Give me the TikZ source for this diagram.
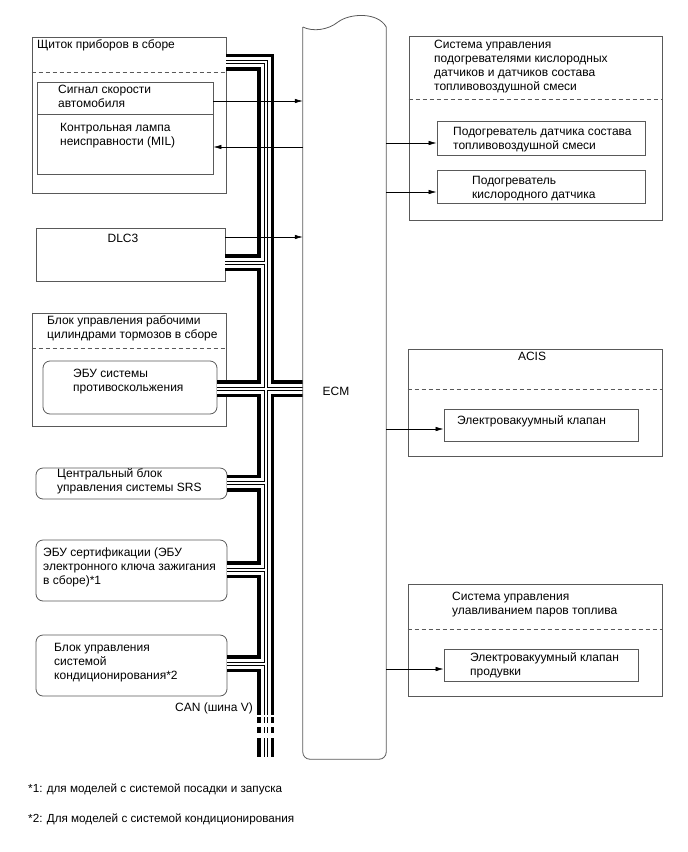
\documentclass[tikz,border=0pt]{standalone}
\usepackage{fontspec}
\setmainfont{Liberation Sans}
\usetikzlibrary{arrows.meta, fit, calc}

\tikzset{
  frame/.style={draw=black!65, line width=0.8pt, inner sep=0pt},
  rframe/.style={frame, rounded corners=7pt},
  sep/.style={draw=black!65, line width=0.8pt, dash pattern=on 4pt off 3pt},
  lbl/.style={anchor=base west, align=left, inner sep=0pt, font=\fontsize{12}{14}\selectfont},
  arr/.style={line width=0.6pt, -{Latex[length=8pt,width=4.5pt]}},
}

% CAN bus wires, drawn in layers so the branches merge
\newcommand\canpaths{
  (shch.east |- 0,62) -- (bustop) -- (busend)
  (dlc.east |- 0,262.5) -- (bustop |- 0,262.5)
  (esp.east |- 0,388.5) -- (ecm.west |- 0,388.5)
  (srs.east |- 0,483) -- (bustop |- 0,483)
  (cert.east |- 0,569.5) -- (bustop |- 0,569.5)
  (ac.east |- 0,663.5) -- (bustop |- 0,663.5)
}

\begin{document}
\begin{tikzpicture}[x=1pt, y=-1pt, line join=miter]
    \useasboundingbox (0,0) rectangle (688,852);

    % left column (labels sit on the baseline of their last line)
    \node[frame, fit={(32,37)(226,193)}] (shch) {};
    \draw[sep] (shch.west |- 0,72) -- (shch.east |- 0,72);
    \node[frame, fit={(37,82)(213,114)}] (spd) {};
    \node[frame, fit={(37,114)(213,174)}] (mil) {};
    \node[frame, fit={(36,228)(225,281)}] (dlc) {};
    \node[frame, fit={(32,313)(226,426)}] (brk) {};
    \draw[sep] (brk.west |- 0,348) -- (brk.east |- 0,348);
    \node[rframe, fit={(43,361)(217,414)}] (esp) {};
    \node[rframe, fit={(36,468)(227,499)}] (srs) {};
    \node[rframe, fit={(36,540)(227,601)}] (cert) {};
    \node[rframe, fit={(36,635)(227,696)}] (ac) {};

    \node[lbl] (shch-t) at (37,48) {Щиток приборов в сборе};
    \node[lbl] (spd-t) at (58,107) {Сигнал скорости\\автомобиля};
    \node[lbl] (mil-t) at (60,145) {Контрольная лампа\\неисправности (MIL)};
    \node[lbl, anchor=base] (dlc-t) at (123,242) {DLC3};
    \node[lbl] (brk-t) at (47,338) {Блок управления рабочими\\цилиндрами тормозов в сборе};
    \node[lbl] (esp-t) at (73,391) {ЭБУ системы\\противоскольжения};
    \node[lbl] (srs-t) at (57,491) {Центральный блок\\управления системы SRS};
    \node[lbl] (cert-t) at (43,584) {ЭБУ сертификации (ЭБУ\\электронного ключа зажигания\\в сборе)*1};
    \node[lbl] (ac-t) at (54,679) {Блок управления\\системой\\кондиционирования*2};
    \node[lbl, anchor=base east] (can-t) at (253,711) {CAN (шина V)};

    % ECM
    \node[inner sep=0pt, fit={(303,20)(386,759)}] (ecm) {};
    \node[lbl, anchor=base] (ecm-t) at (336,395) {ECM};

    % right column
    \node[frame, fit={(409,36)(662,220)}] (htr) {};
    \draw[sep] (htr.west |- 0,99) -- (htr.east |- 0,99);
    \node[frame, fit={(437,121)(645,155)}] (afs) {};
    \node[frame, fit={(437,170)(645,203)}] (oxs) {};
    \node[frame, fit={(408,349)(662,456)}] (acis) {};
    \draw[sep] (acis.west |- 0,389) -- (acis.east |- 0,389);
    \node[frame, fit={(444,409)(638,441)}] (vsv) {};
    \node[frame, fit={(408,584)(662,696)}] (evap) {};
    \draw[sep] (evap.west |- 0,629) -- (evap.east |- 0,629);
    \node[frame, fit={(444,649)(638,681)}] (purge) {};

    \node[lbl, font=\fontsize{12}{13.7}\selectfont] (htr-t) at (434,90) {Система управления\\подогревателями кислородных\\датчиков и датчиков состава\\топливовоздушной смеси};
    \node[lbl] (afs-t) at (453,149) {Подогреватель датчика состава\\топливовоздушной смеси};
    \node[lbl] (oxs-t) at (472,198) {Подогреватель\\кислородного датчика};
    \node[lbl, anchor=base] (acis-t) at (532,360) {ACIS};
    \node[lbl] (vsv-t) at (457,424) {Электровакуумный клапан};
    \node[lbl] (evap-t) at (452,614) {Система управления\\улавливанием паров топлива};
    \node[lbl] (purge-t) at (470,675) {Электровакуумный клапан\\продувки};

    % bus
    \coordinate (bustop) at (265.5,62);
    \coordinate (busend) at (265.5,715);
    \foreach \w/\c in {17/black,10/white,4/black,2/white}
      \draw[line width=\w pt, \c] \canpaths;
    \foreach \w/\c in {17/black,10/white,4/black,2/white}
      \draw[line width=\w pt, \c, dash pattern=on 6pt off 4pt on 6pt off 5pt on 19pt off 10pt]
        (busend |- 0,717) -- (busend |- 0,757);

    % ECM outline
    \draw[draw=black!65, line width=0.8pt, rounded corners=7pt]
      (ecm.west |- 0,27) -- (ecm.south west) -- (ecm.south east) -- (ecm.east |- 0,27);
    \draw[draw=black!65, line width=0.8pt]
      (ecm.west |- 0,27) .. controls (313,32) and (328,30) .. (338,22)
      .. controls (350,13) and (378,12) .. (ecm.east |- 0,27);

    % signals
    \draw[arr] (spd.east |- 0,101) -- (ecm.west |- 0,101);
    \draw[arr] (ecm.west |- 0,147) -- (mil.east |- 0,147);
    \draw[arr] (dlc.east |- 0,237) -- (ecm.west |- 0,237);
    \draw[arr] (ecm.east |- 0,143) -- (afs.west |- 0,143);
    \draw[arr] (ecm.east |- 0,192) -- (oxs.west |- 0,192);
    \draw[arr] (ecm.east |- 0,429) -- (vsv.west |- 0,429);
    \draw[arr] (ecm.east |- 0,669) -- (purge.west |- 0,669);

    % footnotes
    \node[lbl, font=\fontsize{11.7}{13}\selectfont] (note1) at (28,792) {*1: для моделей с системой посадки и запуска};
    \node[lbl, font=\fontsize{11.7}{13}\selectfont] (note2) at (28,822) {*2: Для моделей с системой кондиционирования};
\end{tikzpicture}
\end{document}
